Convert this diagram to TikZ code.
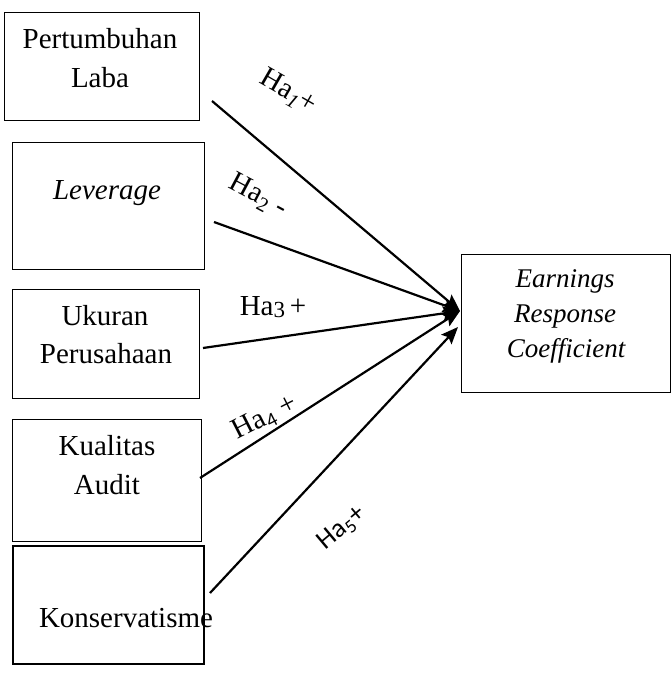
\documentclass[tikz,border=0pt]{standalone}
\usepackage{fontspec}
\setmainfont{Liberation Serif}
\newfontfamily\calib{Carlito}
\usetikzlibrary{arrows.meta}
\tikzset{
  box/.style={draw, line width=1pt, inner sep=0pt, outer sep=0pt},
  boldbox/.style={draw, line width=2.4pt, inner sep=0pt, outer sep=0pt},
  txt/.style={anchor=base, inner sep=0pt, font=\fontsize{29}{35}\selectfont},
  itxt/.style={anchor=base, inner sep=0pt, font=\fontsize{27}{33}\selectfont\itshape},
  lbl/.style={inner sep=0pt, font=\fontsize{29}{35}\selectfont},
  link/.style={line width=2.2pt, -{Stealth[length=17pt,width=14pt,inset=3pt]}}
}
\begin{document}
\begin{tikzpicture}[x=1pt,y=-1pt]
\useasboundingbox (0,0) rectangle (671,676);
% boxes
\node[box, minimum width=195pt, minimum height=108pt] (b1) at (101.5,67) {};
\node[box, minimum width=192pt, minimum height=126pt] (b2) at (108,206) {};
\node[box, minimum width=187pt, minimum height=109pt] (b3) at (105.5,343.5) {};
\node[box, minimum width=189pt, minimum height=122pt] (b4) at (106.5,480) {};
\node[boldbox, minimum width=191pt, minimum height=118pt] (b5) at (108.5,605) {};
\node[box, minimum width=209pt, minimum height=138pt] (erc) at (565.5,323) {};
% texts
\node[txt] (t1a) at (100,49) {Pertumbuhan};
\node[txt] (t1b) at (100,88) {Laba};
\node[txt, font=\fontsize{29}{35}\selectfont\itshape] (t2) at (107,200) {Leverage};
\node[txt] (t3a) at (105,325) {Ukuran};
\node[txt] (t3b) at (106,363) {Perusahaan};
\node[txt] (t4a) at (107,455) {Kualitas};
\node[txt] (t4b) at (107,494) {Audit};
\node[txt] (t5) at (126,627) {Konservatisme};
\node[itxt] (e1) at (565,287) {Earnings};
\node[itxt] (e2) at (565,322) {Response};
\node[itxt] (e3) at (566,357) {Coefficient};
% connector ends
\coordinate (s1) at (212,101);
\coordinate (s2) at (214,222);
\coordinate (s3) at (203,348);
\coordinate (s4) at (200,478);
\coordinate (s5) at (210,593);
\coordinate (tgt) at (460,311);
\coordinate (tgt5) at (458,327);
\draw[link] (s1) -- (tgt);
\draw[link] (s2) -- (tgt);
\draw[link] (s3) -- (tgt);
\draw[link] (s4) -- (tgt);
\draw[link] (s5) -- (tgt5);
% labels
\node[lbl, rotate=-30] (h1) at (288,92) {Ha\textsubscript{\textit{1}}+};
\node[lbl, rotate=-28] (h2) at (258,196) {Ha\textsubscript{2} -};
\node[lbl] (h3) at (273,307) {Ha\raisebox{-2pt}{\fontsize{23}{23}\selectfont 3}\,+};
\node[lbl, rotate=27] (h4) at (265,418) {Ha\textsubscript{\calib 4} +};
\node[lbl, rotate=40, font=\fontsize{27}{33}\calib] (h5) at (342,528) {Ha\textsubscript{5}+};
\end{tikzpicture}
\end{document}
